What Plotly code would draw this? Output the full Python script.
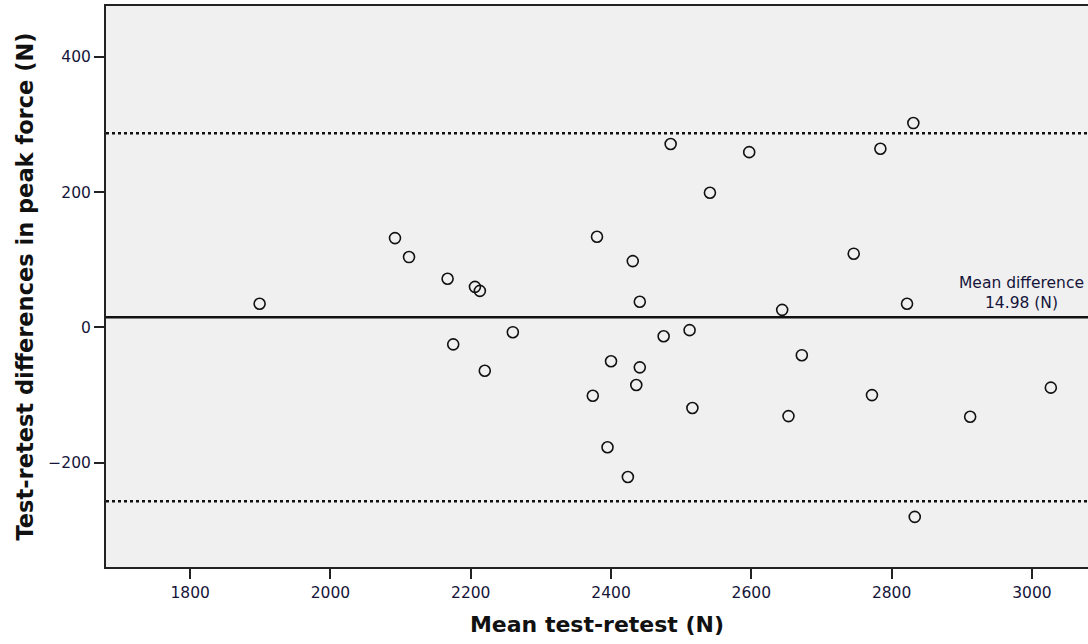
import plotly.graph_objects as go

# Data (Bland-Altman plot)
mean_vals = [1899, 2092, 2112, 2167, 2206, 2213, 2260, 2175, 2220, 2380, 2431, 2441,
             2485, 2541, 2597, 2475, 2512, 2400, 2441, 2436, 2374, 2516, 2395, 2424,
             2831, 2784, 2746, 2644, 2822, 2672, 2772, 2653, 2912, 3027, 2833]
diff_vals = [35, 132, 104, 72, 60, 54, -7, -25, -64, 134, 98, 38,
             271, 199, 259, -13, -4, -50, -59, -85, -101, -119, -177, -221,
             302, 264, 109, 26, 35, -41, -100, -131, -132, -89, -280]

mean_diff = 14.98
upper_loa = 286.9
lower_loa = -256.9

x_range = [1680, 3080]
y_range = [-354, 475]
x_ticks = [1800, 2000, 2200, 2400, 2600, 2800, 3000]
y_ticks = [-200, 0, 200, 400]

font_family = "DejaVu Sans"
tick_color = "#15153a"

fig = go.Figure()

fig.add_trace(go.Scatter(
    x=mean_vals, y=diff_vals, mode="markers",
    marker=dict(symbol="circle-open", size=11, color="#111111", line=dict(width=1.6, color="#111111")),
    showlegend=False, hoverinfo="x+y",
))

for yv, dash, w in [(upper_loa, "dot", 2.5), (lower_loa, "dot", 2.5), (mean_diff, "solid", 2.5)]:
    fig.add_trace(go.Scatter(
        x=x_range, y=[yv, yv], mode="lines",
        line=dict(color="#111111", width=w, dash=dash),
        showlegend=False, hoverinfo="skip",
    ))

fig.add_annotation(
    x=1.0, xref="paper", xanchor="right", xshift=-2, y=mean_diff, yref="y", yanchor="bottom", yshift=3,
    text="Mean difference<br>14.98 (N)", showarrow=False, align="center",
    font=dict(family=font_family, size=15.5, color=tick_color),
)

fig.update_layout(
    width=1088, height=644,
    margin=dict(l=106, r=0, t=6, b=77),
    paper_bgcolor="white", plot_bgcolor="#f0f0f0",
    font=dict(family=font_family, size=15, color=tick_color),
)

fig.update_xaxes(
    range=x_range, tickmode="array", tickvals=x_ticks,
    showgrid=False, zeroline=False,
    showline=True, linecolor="#222222", linewidth=2, mirror=True,
    ticks="outside", ticklen=10, tickwidth=2, tickcolor="#222222",
    tickfont=dict(family=font_family, size=15.5, color=tick_color),
    title=dict(text="<b>Mean test-retest (N)</b>", standoff=16,
               font=dict(family=font_family, size=22, color="#111111")),
)
fig.update_yaxes(
    range=y_range, tickmode="array", tickvals=y_ticks,
    showgrid=False, zeroline=False,
    showline=True, linecolor="#222222", linewidth=2, mirror=False,
    ticks="outside", ticklen=10, tickwidth=2, tickcolor="#222222",
    tickfont=dict(family=font_family, size=15.5, color=tick_color),
    title=dict(text="<b>Test-retest differences in peak force (N)</b>", standoff=8,
               font=dict(family=font_family, size=22.5, color="#111111")),
)

fig.write_html("out.html")
